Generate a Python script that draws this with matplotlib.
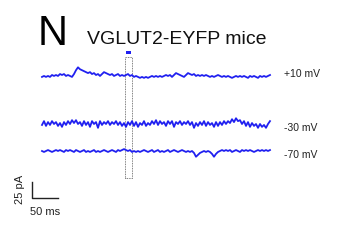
import numpy as np
import matplotlib
matplotlib.use("Agg")
import matplotlib.pyplot as plt
from matplotlib.patches import Rectangle

plt.rcParams['font.family'] = ['Liberation Sans', 'DejaVu Sans']

# Current traces (pA, up = outward), one sample every ~3.9 ms
trace_p10 = [-3, -1.5, -3, -1.5, -3, 0, -1.5, 0, -1.5, 1.5, 0, 1.5, -1.5, 0, -1.5, -3,
             1.5, 7.5, 12, 9, 7.5, 6, 4.5, 3, 4.5, 1.5, 3, 0, 1.5, -1.5, 1.5, 4.5,
             3, 1.5, 0, 1.5, -1.5, 0, 1.5, -1.5, 0, -1.5, 0, 1.5, -1.5, 0, -3, -1.5,
             -3, -4.5, -3, -4.5, -3, -4.5, -3, -1.5, -3, -1.5, -3, -1.5, -3, -1.5, 0, -1.5,
             0, -3, 0, 3, 1.5, 0, -1.5, -3, 0, 3, 1.5, 0, 1.5, -1.5, 0, -1.5,
             0, -1.5, 0, -1.5, -3, -1.5, -3, -1.5, 0, -1.5, -3, -1.5, -3, -1.5, -3, -4.5,
             -3, -1.5, -3, -1.5, -3, -1.5, -3, -4.5, -1.5, -3, -1.5, -3, -4.5, -1.5, -3, -1.5,
             -3, -1.5, 0]
trace_m30 = [-1.5, 4.5, -3, 3, -1.5, 4.5, 0, 3, -3, 1.5, -4.5, 3, -1.5, 4.5, 0, 6,
             1.5, 6, 0, 3, -3, 4.5, -1.5, 3, -4.5, 4.5, 0, 3, -6, 4.5, -1.5, 3,
             0, 4.5, -1.5, 3, 0, 4.5, -1.5, 3, -3, 1.5, -4.5, 3, -1.5, 4.5, -3, 3,
             -4.5, 1.5, -1.5, 4.5, -3, 1.5, -1.5, 4.5, 0, 6, -1.5, 4.5, 0, 3, -3, 4.5,
             0, 4.5, -4.5, 3, 0, 4.5, -1.5, 3, 0, 4.5, -1.5, 3, -6, 1.5, -3, 3,
             -1.5, 4.5, -3, 3, -1.5, 1.5, -4.5, 3, -3, 3, -1.5, 4.5, 0, 4.5, 1.5, 7.5,
             3, 9, 4.5, 6, 0, 4.5, -3, 3, -4.5, 1.5, -3, 0, -6, 0, -4.5, -1.5,
             -6, 0, 4.5]
trace_m70 = [0, -1.5, 0, 1.5, 0, -1.5, 0, 1.5, 0, 1.5, 0, -1.5, 1.5, 0, 1.5, 0,
             -1.5, 1.5, 0, -1.5, 0, 1.5, -1.5, 0, -1.5, 0, 1.5, -1.5, 0, -1.5, 0, 1.5,
             0, -1.5, 0, 1.5, 0, -1.5, 1.5, 0, 1.5, 3, 1.5, 0, 1.5, -1.5, 0, -1.5,
             0, -1.5, 0, 1.5, 0, -1.5, 0, 1.5, -1.5, 0, 1.5, -1.5, 0, -1.5, 0, 1.5,
             -1.5, 0, 1.5, 0, -1.5, 0, 1.5, 0, -1.5, 0, -1.5, 0, -3, -9, -6, -3,
             -1.5, 0, -1.5, 0, -1.5, -4.5, -9, -4.5, -1.5, 0, 1.5, 0, 1.5, 0, 1.5, -1.5,
             0, 1.5, 0, -1.5, 1.5, 0, 1.5, 0, 1.5, 0, -1.5, 0, 1.5, 0, 1.5, 0,
             1.5, 0, 1.5]
trace_labels = ["+10 mV", "-30 mV", "-70 mV"]
sweep_ms = 440
light_on, light_off = 160, 174  # ms
scale_ms, scale_pA = 50, 25

# figure geometry: pixel -> data
px_per_ms = 228 / sweep_ms
pA_per_px = 25 / 16
H = 245

def xd(px):
    return (px - 42) / px_per_ms

def yd(py):
    return (H - py) * pA_per_px

fig = plt.figure(figsize=(3.49, 2.45), dpi=100)
ax = fig.add_axes([0, 0, 1, 1])
ax.set_xlim(xd(0), xd(349))
ax.set_ylim(yd(H), yd(0))
ax.axis("off")

baselines = [75, 124, 151]
label_y = [74, 128, 155]
for tr, base, lab, ly in zip([trace_p10, trace_m30, trace_m70], baselines, trace_labels, label_y):
    t = np.linspace(0, sweep_ms, len(tr))
    ax.plot(t, np.array(tr) + yd(base), color="#2020f0", lw=1.3)
    ax.text(xd(284), yd(ly), lab, fontsize=7.5, va="center", ha="left", color="#222222")

# light pulse window
ax.add_patch(Rectangle((light_on, yd(178)), light_off - light_on, yd(57) - yd(178),
                       fill=False, ls=(0, (1, 1)), lw=0.6, ec="#555555"))
ax.add_patch(Rectangle((light_on + 2, yd(54.5)), light_off - light_on - 5, yd(51.5) - yd(54.5),
                       color="#2020f0", lw=0))

# scale bar
x0, y0 = xd(32), yd(198)
ax.plot([x0, x0, x0 + scale_ms], [y0 + scale_pA, y0, y0], color="#222222", lw=1.0)
ax.text(xd(20), y0 + scale_pA / 2 + 1, "25 pA", rotation=90, fontsize=8, ha="center", va="center", color="#222222")
ax.text(xd(30), yd(212), "50 ms", fontsize=8, ha="left", va="center", color="#222222")

# panel letter and title
ax.text(xd(38), yd(45), "N", fontsize=30, ha="left", va="baseline")
ax.text(xd(87), yd(44), "VGLUT2-EYFP mice", fontsize=14, ha="left", va="baseline", color="#111111")

fig.savefig("out.png", dpi=100)
